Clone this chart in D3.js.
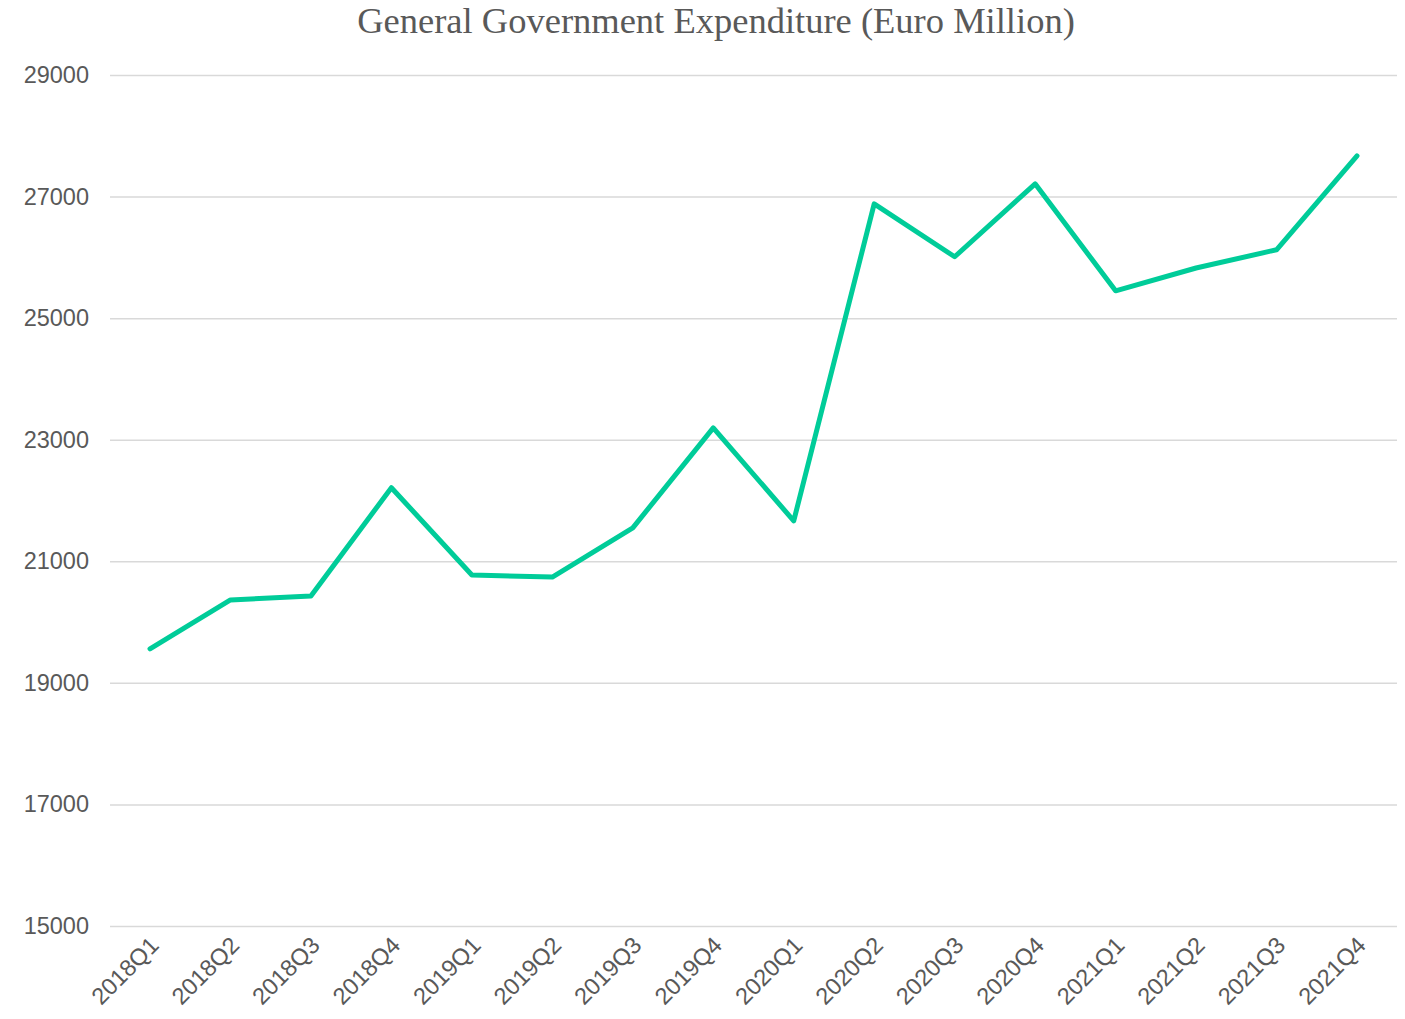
<!DOCTYPE html>
<html>
<head>
<meta charset="utf-8">
<script src="https://cdn.jsdelivr.net/npm/d3@7"></script>
<style>
  body { margin: 0; background: #fff; }
  svg text { font-family: "Liberation Sans", Arial, sans-serif; fill: #595959; }
</style>
</head>
<body>
<svg id="chart" width="1405" height="1019"></svg>
<script>
// Data
const quarters = ["2018Q1","2018Q2","2018Q3","2018Q4","2019Q1","2019Q2","2019Q3","2019Q4",
                  "2020Q1","2020Q2","2020Q3","2020Q4","2021Q1","2021Q2","2021Q3","2021Q4"];
const expenditure = [19560, 20365, 20430, 22210, 20775, 20740, 21550, 23195,
                     21665, 26880, 26010, 27210, 25450, 25825, 26125, 27670];
const yTicks = [15000, 17000, 19000, 21000, 23000, 25000, 27000, 29000];

const svg = d3.select("#chart");
const margin = {top: 75, right: 8, bottom: 93, left: 110};
const width = +svg.attr("width");
const height = +svg.attr("height");

const x = d3.scalePoint()
  .domain(quarters)
  .range([150, 1357]);

const y = d3.scaleLinear()
  .domain([15000, 29000])
  .range([height - margin.bottom, margin.top]);

// Title
svg.append("text")
  .attr("x", 716)
  .attr("y", 33)
  .attr("text-anchor", "middle")
  .style("font-family", "'Liberation Serif', 'DejaVu Serif', serif")
  .style("font-size", "36.5px")
  .text("General Government Expenditure (Euro Million)");

// Y axis + gridlines
const yAxis = svg.append("g")
  .attr("transform", `translate(${margin.left},0)`)
  .call(d3.axisLeft(y).tickValues(yTicks).tickSize(-(width - margin.left - margin.right)).tickPadding(21).tickFormat(d3.format("d")));
yAxis.select(".domain").remove();
yAxis.selectAll(".tick line").attr("stroke", "#d9d9d9").attr("stroke-width", 1.5);
yAxis.selectAll(".tick text").style("font-size", "23.5px").style("fill", "#595959");

// X axis labels
const xAxis = svg.append("g")
  .attr("transform", `translate(0,${height - margin.bottom})`)
  .call(d3.axisBottom(x).tickSize(0));
xAxis.select(".domain").remove();
xAxis.selectAll(".tick text")
  .style("font-size", "23.5px")
  .style("fill", "#595959")
  .attr("text-anchor", "end")
  .attr("x", 0)
  .attr("y", 0)
  .attr("dy", "0.71em")
  .attr("transform", "translate(-2,9) rotate(-45)");

// Line
const line = d3.line()
  .x((d, i) => x(quarters[i]))
  .y(d => y(d));

svg.append("path")
  .datum(expenditure)
  .attr("fill", "none")
  .attr("stroke", "#00CC99")
  .attr("stroke-width", 5)
  .attr("stroke-linejoin", "round")
  .attr("stroke-linecap", "round")
  .attr("d", line);
</script>
</body>
</html>
